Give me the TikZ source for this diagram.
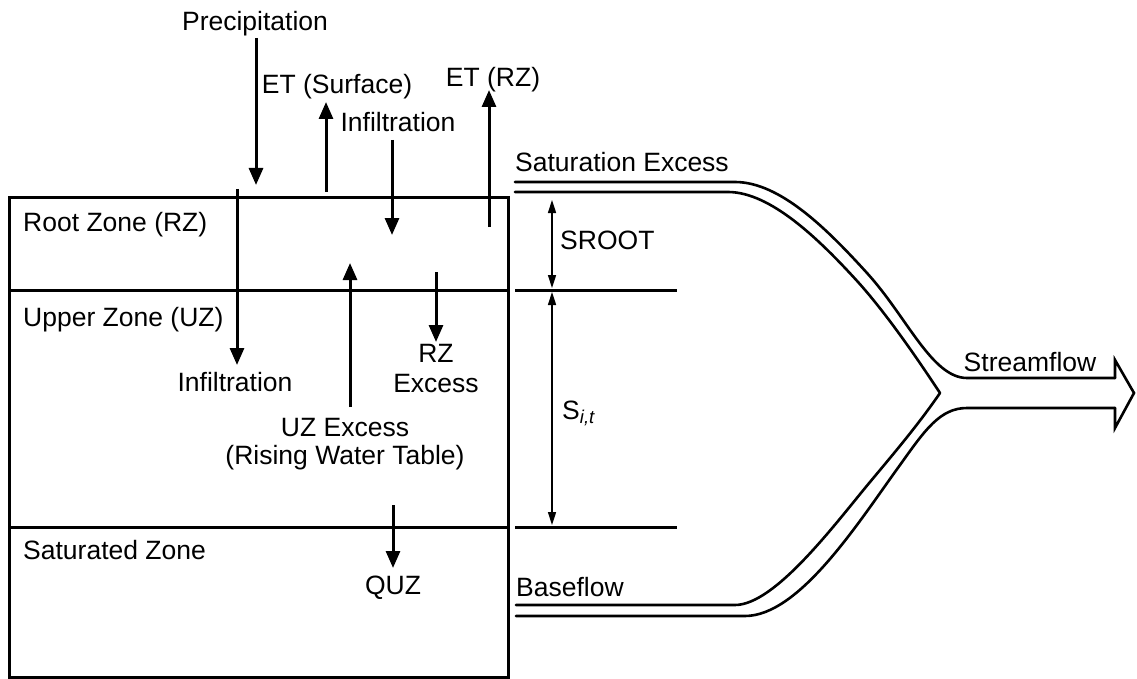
\documentclass[tikz,border=0pt]{standalone}
\usepackage{fontspec}
\setmainfont{Liberation Sans}
\usetikzlibrary{arrows.meta}
\begin{document}
\begin{tikzpicture}[x=1pt,y=-1pt,
  lbl/.style={font=\fontsize{26.5}{30}\selectfont, inner sep=0pt},
  zone/.style={line width=3pt},
  flow/.style={line width=3pt, -{Triangle[length=17pt,width=14pt]}},
  dimarrow/.style={line width=1.6pt, {Triangle[length=13pt,width=8pt]}-{Triangle[length=13pt,width=8pt]}},
  chan/.style={line width=2.6pt, line cap=round, line join=round}]
\useasboundingbox (0,0) rectangle (1137,679);

% soil column
\coordinate (boxTL) at (9,198);
\coordinate (boxBR) at (508,677);
\draw[zone] (boxTL) rectangle (boxBR);
\coordinate (rzL) at (9,290);  \coordinate (rzR) at (508,290);
\coordinate (uzL) at (9,527);  \coordinate (uzR) at (508,527);
\draw[zone] (rzL) -- (rzR);
\draw[zone] (uzL) -- (uzR);
\coordinate (rzE1) at (515,290); \coordinate (rzE2) at (677,290);
\coordinate (uzE1) at (515,527); \coordinate (uzE2) at (677,527);
\draw[zone] (rzE1) -- (rzE2);
\draw[zone] (uzE1) -- (uzE2);

% vertical flux arrows
\coordinate (pr1) at (256,38);  \coordinate (pr2) at (256,185);
\coordinate (in1) at (237,189); \coordinate (in2) at (237,365);
\coordinate (ets1) at (326,192); \coordinate (ets2) at (326,102);
\coordinate (inu1) at (392,140); \coordinate (inu2) at (392,235);
\coordinate (etr1) at (489,227); \coordinate (etr2) at (489,90);
\coordinate (uze1) at (350,407); \coordinate (uze2) at (350,263);
\coordinate (rze1) at (436,272); \coordinate (rze2) at (436,342);
\coordinate (quz1) at (393,505); \coordinate (quz2) at (393,568);
\draw[flow] (pr1) -- (pr2);
\draw[flow] (in1) -- (in2);
\draw[flow] (ets1) -- (ets2);
\draw[flow] (inu1) -- (inu2);
\draw[flow] (etr1) -- (etr2);
\draw[flow] (uze1) -- (uze2);
\draw[flow] (rze1) -- (rze2);
\draw[flow] (quz1) -- (quz2);

% dimension arrows
\coordinate (sr1) at (552,200); \coordinate (sr2) at (552,288);
\coordinate (si1) at (552,292); \coordinate (si2) at (552,525);
\draw[dimarrow] (sr1) -- (sr2);
\draw[dimarrow] (si1) -- (si2);

% channels
\coordinate (vtx) at (940,393);
\draw[chan] (515,182) -- (735,182)
  .. controls (780,182) and (827,229) .. (867,273)
  .. controls (907,317) and (932,378) .. (967,378) -- (1115,378);
\draw[chan, line join=miter] (1115,378) -- (1115,360) -- (1134,393) -- (1115,428) -- (1115,408);
\draw[chan] (1115,408) -- (967,408)
  .. controls (940,408) and (925,430) .. (900,465)
  .. controls (860,520) and (800,616) .. (745,616) -- (516,616);
\draw[chan] (515,192) -- (728,192)
  .. controls (770,192) and (818,238) .. (858,282)
  .. controls (885,312) and (915,355) .. (vtx);
\draw[chan] (vtx)
  .. controls (918,425) and (895,452) .. (870,482)
  .. controls (835,524) and (775,605) .. (735,605) -- (516,605);

% labels
\node[lbl, anchor=base] (tPrec) at (255,31) {Precipitation};
\node[lbl, anchor=base] (tETs) at (337,94) {ET (Surface)};
\node[lbl, anchor=base] (tInfU) at (398,132) {Infiltration};
\node[lbl, anchor=base] (tETr) at (493,87) {ET (RZ)};
\node[lbl, anchor=base west] (tRZ) at (23,231) {Root Zone (RZ)};
\node[lbl, anchor=base west] (tUZ) at (23,326) {Upper Zone (UZ)};
\node[lbl, anchor=base] (tInfL) at (235,391) {Infiltration};
\node[lbl, anchor=base] (tRZx1) at (436,362) {RZ};
\node[lbl, anchor=base] (tRZx2) at (436,392) {Excess};
\node[lbl, anchor=base] (tUZx1) at (345,436) {UZ Excess};
\node[lbl, anchor=base] (tUZx2) at (345,464) {(Rising Water Table)};
\node[lbl, anchor=base west] (tSat) at (23,559) {Saturated Zone};
\node[lbl, anchor=base] (tQUZ) at (393,594) {QUZ};
\node[lbl, anchor=base west] (tSE) at (515,172) {Saturation Excess};
\node[lbl, anchor=base west] (tSR) at (560,249) {SROOT};
\node[lbl, anchor=base west] (tSit) at (562,419) {S\textsubscript{\itshape i,t}};
\node[lbl, anchor=base west] (tBF) at (516,596) {Baseflow};
\node[lbl, anchor=base] (tSF) at (1030,371) {Streamflow};
\end{tikzpicture}
\end{document}
